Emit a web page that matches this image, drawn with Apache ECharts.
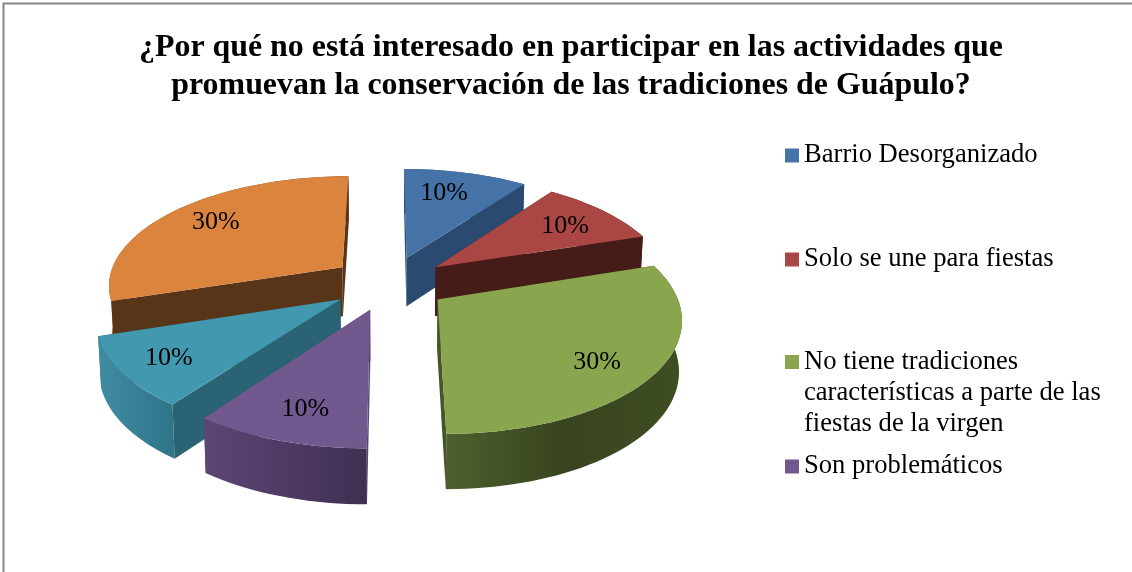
<!DOCTYPE html>
<html>
<head>
<meta charset="utf-8">
<title>Tradiciones de Guápulo</title>
<script src="https://cdn.jsdelivr.net/npm/echarts@6/dist/echarts.min.js"></script>
<style>
html, body { margin: 0; padding: 0; background: #fff; }
#chart1 { width: 1132px; height: 572px; }
</style>
</head>
<body>
<div id="chart1"></div>
<script>
// chart data, slices run clockwise from the top
const titleText = '¿Por qué no está interesado en participar en las actividades que\npromuevan la conservación de las tradiciones de Guápulo?'
const categories = [
    'Barrio Desorganizado',
    'Solo se une para fiestas',
    'No tiene tradiciones\ncaracterísticas a parte de las\nfiestas de la virgen',
    'Son problemáticos',
    'Sin leyenda 1',
    'Sin leyenda 2'
]
const values = [10, 10, 30, 10, 10, 30]

// look of each slice
const topColors = ['#4572a7', '#aa4643', '#89a54e', '#71588f', '#4198af', '#db843d']
const sideColors = ['#2b4a70', '#461c19', '#46552a', '#5c4675', '#2a6373', '#583418']
const arcColors = [
    ['#2b4a70', '#2b4a70'],
    ['#461c19', '#461c19'],
    ['#4e5f2d', '#38441f', '#3f4d23'],
    ['#5c4675', '#3f2f52'],
    ['#3f8ca2', '#2f7488'],
    ['#b06a30', '#583418']
]
// far slices first so the near ones cover them
const drawOrder = [0, 1, 5, 4, 3, 2]
// top of each legend row
const legendTops = [140, 244, 284.5, 451]
// small pixel shifts of the percent labels
const labelNudge = [[-8, 0], [3, 2], [2, 10], [0, 7], [-14, 6], [0, -2]]

// projection of the pie plane
const cx = 389, cy = 283, rx = 235, ry = 109
const perspective = 0.149, explode = 0.25, thickness = 49.5, labelRadius = 0.74

const total = values.reduce((a, b) => a + b, 0)

function project(u, v, low) {
    const s = 1 / (1 + perspective * v)
    return [
        cx + rx * u * s * (low ? 0.99 : 1),
        cy - ry * v * s + (low ? thickness * Math.pow(s, 0.6) : 0)
    ]
}

function sliceShape(index) {
    let before = 0
    for (let i = 0; i < index; i++) before += values[i]
    const start = before / total * Math.PI * 2
    const end = (before + values[index]) / total * Math.PI * 2
    const mid = (start + end) / 2
    const ou = explode * Math.sin(mid), ov = explode * Math.cos(mid)
    const rim = []
    const steps = Math.ceil((end - start) / (Math.PI / 90))
    for (let i = 0; i <= steps; i++) {
        const a = start + (end - start) * i / steps
        rim.push([ou + Math.sin(a), ov + Math.cos(a)])
    }
    return { apex: [ou, ov], rim, start, end, mid, ou, ov }
}

function renderSlice(index) {
    const shape = sliceShape(index)
    const rimTop = shape.rim.map(p => project(p[0], p[1], false))
    const rimLow = shape.rim.map(p => project(p[0], p[1], true))
    const apexTop = project(shape.apex[0], shape.apex[1], false)
    const apexLow = project(shape.apex[0], shape.apex[1], true)
    const last = rimTop.length - 1
    const stops = arcColors[index].map((c, i, list) => ({ offset: i / (list.length - 1), color: c }))
    const label = project(
        shape.ou + labelRadius * Math.sin(shape.mid),
        shape.ov + labelRadius * Math.cos(shape.mid),
        false
    )
    const face = (points, fill) => ({ type: 'polygon', shape: { points }, style: { fill } })
    const startWall = face([apexTop, rimTop[0], rimLow[0], apexLow], sideColors[index])
    const endWall = face([apexTop, rimTop[last], rimLow[last], apexLow], sideColors[index])
    const arcWall = face(rimTop.concat(rimLow.slice().reverse()), new echarts.graphic.LinearGradient(0, 0, 1, 0, stops))
    // a flat wall goes over the rim only when it looks towards the viewer
    const startFront = Math.sin(shape.start) < -0.01
    const endFront = Math.sin(shape.end) > 0.01
    const walls = []
    if (!startFront) walls.push(startWall)
    if (!endFront) walls.push(endWall)
    walls.push(arcWall)
    if (startFront) walls.push(startWall)
    if (endFront) walls.push(endWall)
    return {
        type: 'group',
        children: walls.concat([
            face([apexTop].concat(rimTop), topColors[index]),
            {
                type: 'text',
                style: {
                    text: values[index] + '%',
                    x: label[0] + labelNudge[index][0],
                    y: label[1] + labelNudge[index][1],
                    align: 'center',
                    verticalAlign: 'middle',
                    font: '26px "Liberation Serif"',
                    fill: '#000'
                }
            }
        ])
    }
}

let myChart = echarts.init(document.getElementById('chart1'), null, { renderer: 'canvas' })
myChart.setOption({
    animation: false,
    backgroundColor: '#fff',
    title: {
        text: titleText,
        left: 566,
        top: 24,
        textAlign: 'center',
        textStyle: {
            fontFamily: 'Liberation Serif',
            fontWeight: 'bold',
            fontSize: 31.9,
            lineHeight: 38,
            color: '#000'
        }
    },
    legend: legendTops.map((top, i) => ({
        data: [categories[i]],
        left: 785,
        top: top,
        orient: 'vertical',
        padding: 0,
        itemWidth: 14,
        itemHeight: 14,
        itemGap: 0,
        icon: 'rect',
        selectedMode: false,
        // the square sits at the middle of the text, two blank lines put it on the first line
        formatter: name => (name.includes('\n') ? '\n\n' + name : name),
        textStyle: {
            fontFamily: 'Liberation Serif',
            fontSize: 26.6,
            lineHeight: 31,
            color: '#000'
        }
    })),
    graphic: [{
        type: 'rect',
        silent: true,
        shape: { x: 3.5, y: 3.5, width: 1300, height: 800 },
        style: { fill: 'none', stroke: '#868686', lineWidth: 2 }
    }],
    series: drawOrder.map(index => ({
        type: 'custom',
        name: categories[index],
        coordinateSystem: 'none',
        silent: true,
        itemStyle: { color: topColors[index] },
        data: [[values[index]]],
        renderItem: () => renderSlice(index)
    }))
})
</script>
</body>
</html>
